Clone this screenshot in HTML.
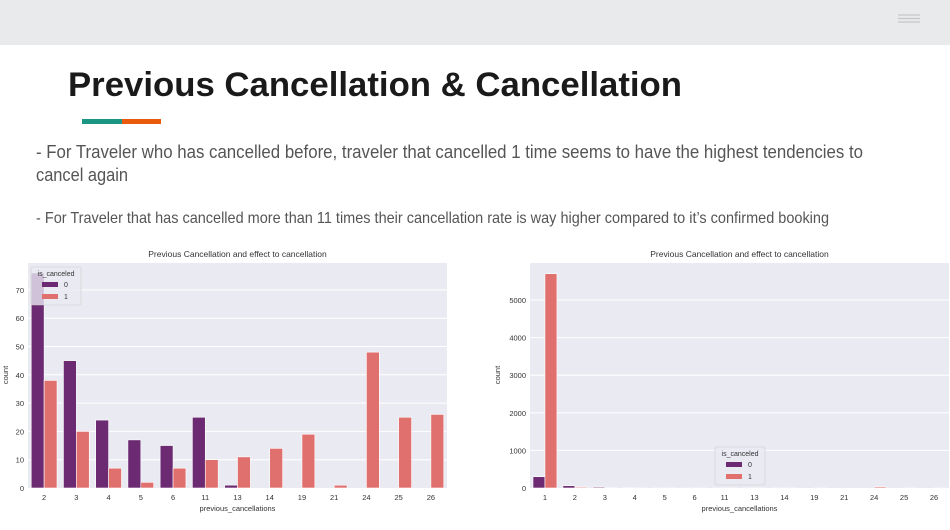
<!DOCTYPE html>
<html><head><meta charset="utf-8"><style>
html,body{margin:0;padding:0;background:#fff;}
svg{display:block;font-family:"Liberation Sans",sans-serif;}
</style></head><body>
<svg id="page" width="950" height="530" viewBox="0 0 950 530">
<rect x="0" y="0" width="950" height="45" fill="#e8eaeb"/>
<g stroke="#c4c6c8" stroke-width="1.2">
<line x1="898" y1="15" x2="920" y2="15"/><line x1="898" y1="18.5" x2="920" y2="18.5"/><line x1="898" y1="22" x2="920" y2="22"/></g>
<text x="68" y="96" font-size="34" font-weight="bold" fill="#1a1a1a" textLength="614" lengthAdjust="spacingAndGlyphs">Previous Cancellation &amp; Cancellation</text>
<rect x="82" y="119" width="40" height="5" fill="#1a9683"/>
<rect x="122" y="119" width="39" height="5" fill="#e95a0c"/>
<text x="36" y="158" font-size="18" fill="#555" textLength="827" lengthAdjust="spacingAndGlyphs">- For Traveler who has cancelled before, traveler that cancelled 1 time seems to have the highest tendencies to</text>
<text x="36" y="181" font-size="18" fill="#555" textLength="92" lengthAdjust="spacingAndGlyphs">cancel again</text>
<text x="36" y="223" font-size="16" fill="#555" textLength="793" lengthAdjust="spacingAndGlyphs">-  For Traveler that has cancelled more than 11 times their cancellation rate is way higher compared to it’s confirmed booking</text>
<g id="c1"></g>
<g id="c2"></g>
</svg>
<script>
const cats1 = ["2","3","4","5","6","11","13","14","19","21","24","25","26"];
const s0_1 = [76,45,24,17,15,25,1,0,0,0,0,0,0];
const s1_1 = [38,20,7,2,7,10,11,14,19,1,48,25,26];
const ticks1 = [0,10,20,30,40,50,60,70];
const cats2 = ["1","2","3","4","5","6","11","13","14","19","21","24","25","26"];
const s0_2 = [300,60,25,5,3,2,2,1,1,0,0,0,0,0];
const s1_2 = [5700,25,5,3,2,1,2,1,2,1,0,30,2,2];
const ticks2 = [0,1000,2000,3000,4000,5000];
const NS="http://www.w3.org/2000/svg";
function mk(p,t,a){const e=document.createElementNS(NS,t);for(const k in a)e.setAttribute(k,a[k]);p.appendChild(e);return e;}
function chart(g,o,cats,s0,s1,ticks,legend){
  const L=o.l,R=o.r,T=263,B=488;
  const y=v=>B-(v/o.max)*(B-T);
  const band=(R-L)/cats.length;
  const x=i=>L+band*i;
  const bg=mk(g,'rect',{x:L,y:T,width:R-L,height:B-T,fill:'#eaeaf2'});
  
  
  ticks.forEach(t=>{
    if(t>0){const gl=mk(g,'line',{x1:L,x2:R,y1:y(t),y2:y(t),stroke:'#fff','stroke-width':1});
    
    }
    const tl=mk(g,'text',{x:L-4,y:y(t)+3,'font-size':7.5,fill:'#333','text-anchor':'end'});tl.textContent=t;
    
    
  });
  cats.forEach((c,i)=>{
    const w=band*0.4;const cx=x(i)+band/2;
    const b0=mk(g,'rect',{x:cx-w,y:y(s0[i]),width:w,height:B-y(s0[i]),fill:'#6b2a72',stroke:'#fff','stroke-width':0.6});
    
    
    const b1=mk(g,'rect',{x:cx,y:y(s1[i]),width:w,height:B-y(s1[i]),fill:'#e0706e',stroke:'#fff','stroke-width':0.6});
    
    
    const tl=mk(g,'text',{x:cx,y:B+12,'font-size':7.5,fill:'#333','text-anchor':'middle'});tl.textContent=c;
    
    
  });
  const tt=mk(g,'text',{x:(L+R)/2,y:257,'font-size':8.5,fill:'#333','text-anchor':'middle'});tt.textContent='Previous Cancellation and effect to cancellation';
  
  
  const xl=mk(g,'text',{x:(L+R)/2,y:511,'font-size':7.5,fill:'#333','text-anchor':'middle'});xl.textContent='previous_cancellations';
  
  
  const yl=mk(g,'text',{x:0,y:0,'font-size':7.5,fill:'#333','text-anchor':'middle',transform:`translate(${o.yl},375) rotate(-90)`});yl.textContent='count';
  
  
  const lg=mk(g,'g',{});
  
  
  const lx=legend[0],ly=legend[1];
  mk(lg,'rect',{x:lx,y:ly,width:50,height:38,fill:'#eaeaf2','fill-opacity':0.8,stroke:'#ccc','stroke-width':0.6,rx:2});
  const lt=mk(lg,'text',{x:lx+25,y:ly+9,'font-size':7,fill:'#333','text-anchor':'middle'});lt.textContent='is_canceled';
  mk(lg,'rect',{x:lx+11,y:ly+15,width:16,height:5,fill:'#6b2a72'});
  const a=mk(lg,'text',{x:lx+33,y:ly+20,'font-size':7,fill:'#333'});a.textContent='0';
  mk(lg,'rect',{x:lx+11,y:ly+27,width:16,height:5,fill:'#e0706e'});
  const b=mk(lg,'text',{x:lx+33,y:ly+32,'font-size':7,fill:'#333'});b.textContent='1';
}
chart(document.getElementById('c1'),{l:28,r:447,max:79.5,yl:8},cats1,s0_1,s1_1,ticks1,[31,267]);
chart(document.getElementById('c2'),{l:530,r:949,max:5985,yl:500},cats2,s0_2,s1_2,ticks2,[715,447]);
</script>
</body></html>
